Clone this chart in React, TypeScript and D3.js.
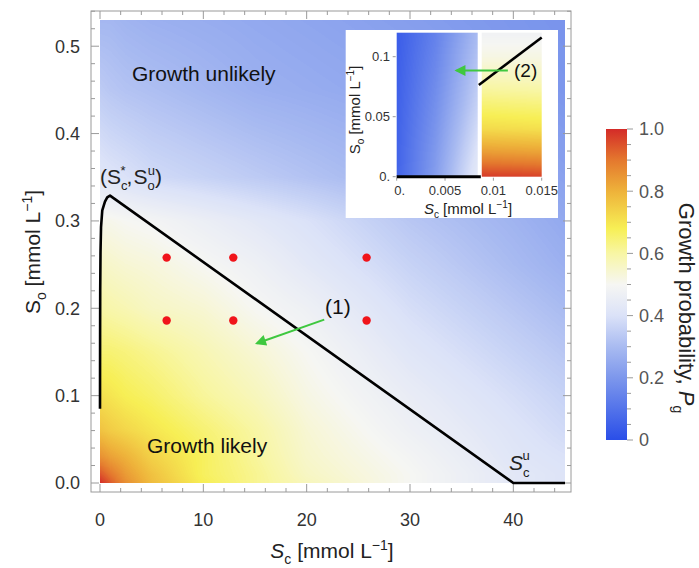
import React, { useMemo } from "react";
import * as d3 from "d3";

// growth probability field (rows = So, cols = Sc)
const fieldSc = [0, 1, 2.5, 5, 10, 15, 20, 30, 40, 45];
const fieldSo = [0, 0.01, 0.03, 0.06, 0.1, 0.15, 0.2, 0.25, 0.3, 0.35, 0.45, 0.53];
const fieldPg = [
  [1.0, 0.94, 0.86, 0.78, 0.68, 0.62, 0.57, 0.5, 0.43, 0.41],
  [0.95, 0.9, 0.84, 0.77, 0.67, 0.62, 0.56, 0.5, 0.43, 0.41],
  [0.86, 0.83, 0.8, 0.74, 0.67, 0.61, 0.55, 0.49, 0.42, 0.4],
  [0.77, 0.75, 0.73, 0.7, 0.65, 0.6, 0.54, 0.47, 0.41, 0.38],
  [0.71, 0.7, 0.68, 0.66, 0.61, 0.57, 0.52, 0.45, 0.39, 0.36],
  [0.65, 0.65, 0.64, 0.62, 0.58, 0.54, 0.5, 0.42, 0.36, 0.33],
  [0.6, 0.59, 0.58, 0.56, 0.54, 0.5, 0.47, 0.39, 0.33, 0.3],
  [0.56, 0.55, 0.54, 0.53, 0.5, 0.47, 0.43, 0.36, 0.3, 0.27],
  [0.51, 0.51, 0.5, 0.49, 0.46, 0.43, 0.4, 0.33, 0.28, 0.25],
  [0.42, 0.41, 0.4, 0.38, 0.36, 0.34, 0.32, 0.28, 0.25, 0.23],
  [0.34, 0.33, 0.32, 0.31, 0.29, 0.27, 0.26, 0.24, 0.21, 0.2],
  [0.29, 0.29, 0.28, 0.27, 0.26, 0.25, 0.24, 0.22, 0.2, 0.19],
];

// boundary curve
const boundSc = [0, 0.01, 0.02, 0.05, 0.1, 0.22, 0.48, 0.7, 0.97, 40, 45];
const boundSo = [0.085, 0.17, 0.22, 0.265, 0.293, 0.312, 0.322, 0.327, 0.329, 0, 0];

// sample points
const dotSc = [6.45, 12.9, 25.8, 6.45, 12.9, 25.8];
const dotSo = [0.258, 0.258, 0.258, 0.186, 0.186, 0.186];

// arrow (1): from, to
const arrow1Sc = [21.7, 15.2];
const arrow1So = [0.187, 0.16];

// inset fields
const insetLeftSc = [0, 0.004, 0.00838];
const insetLeftSo = [0, 0.06, 0.12];
const insetLeftPg = [
  [0.06, 0.22, 0.44],
  [0.05, 0.18, 0.36],
  [0.04, 0.14, 0.3],
];
const insetRightSc = [0.0088, 0.015];
const insetRightSo = [0, 0.02, 0.04, 0.06, 0.08, 0.1, 0.12];
const insetRightPg = [
  [0.98, 0.97],
  [0.84, 0.83],
  [0.72, 0.71],
  [0.65, 0.64],
  [0.58, 0.57],
  [0.52, 0.52],
  [0.48, 0.48],
];
const insetLowSc = [0, 0.0087];
const insetLowSo = [0, 0];
const insetHighSc = [0.0085, 0.015];
const insetHighSo = [0.0764, 0.116];
const arrow2Sc = [0.0115, 0.0062];
const arrow2So = [0.0885, 0.0885];

const xTicks = [0, 10, 20, 30, 40];
const yTicks = [0, 0.1, 0.2, 0.3, 0.4, 0.5];
const insetXTicks = [0, 0.005, 0.01, 0.015];
const insetXLabels = ["0.", "0.005", "0.01", "0.015"];
const insetYTicks = [0, 0.05, 0.1];
const insetYLabels = ["0.", "0.05", "0.1"];
const barTicks = [0, 0.2, 0.4, 0.6, 0.8, 1.0];
const barLabels = ["0", "0.2", "0.4", "0.6", "0.8", "1.0"];

const cmapStops = [0, 0.1, 0.2, 0.3, 0.4, 0.5, 0.6, 0.68, 0.8, 0.9, 1.0];
const cmapColors = [
  "#2a4ee8", "#5373ea", "#7d97ec", "#a9bbf1", "#dbe2f8", "#f6f6f3",
  "#f8f6a4", "#f7ef55", "#eeb23a", "#e4782e", "#d42b28",
];

const color = d3
  .scaleLinear<string>()
  .domain(cmapStops)
  .range(cmapColors)
  .interpolate(d3.interpolateRgb)
  .clamp(true);

const FONT = "'Liberation Sans', Arial, sans-serif";

function lookup(xs, ys, grid, x, y) {
  const i = Math.max(0, Math.min(xs.length - 2, d3.bisectRight(xs, x) - 1));
  const j = Math.max(0, Math.min(ys.length - 2, d3.bisectRight(ys, y) - 1));
  const tx = Math.max(0, Math.min(1, (x - xs[i]) / (xs[i + 1] - xs[i])));
  const ty = Math.max(0, Math.min(1, (y - ys[j]) / (ys[j + 1] - ys[j])));
  const a = grid[j][i] * (1 - tx) + grid[j][i + 1] * tx;
  const b = grid[j + 1][i] * (1 - tx) + grid[j + 1][i + 1] * tx;
  return a * (1 - ty) + b * ty;
}

function fieldImage(xScale, yScale, sc0, sc1, so0, so1, xs, ys, grid) {
  const px0 = xScale(sc0);
  const px1 = xScale(sc1);
  const py0 = yScale(so1);
  const py1 = yScale(so0);
  const w = Math.max(1, Math.round(px1 - px0));
  const h = Math.max(1, Math.round(py1 - py0));
  const canvas = document.createElement("canvas");
  canvas.width = w;
  canvas.height = h;
  const ctx = canvas.getContext("2d");
  const img = ctx.createImageData(w, h);
  const lut = d3.range(256).map((k) => d3.rgb(color(k / 255)));
  for (let py = 0; py < h; py++) {
    const so = yScale.invert(py0 + ((py + 0.5) / h) * (py1 - py0));
    for (let px = 0; px < w; px++) {
      const sc = xScale.invert(px0 + ((px + 0.5) / w) * (px1 - px0));
      const v = lookup(xs, ys, grid, sc, so);
      const c = lut[Math.max(0, Math.min(255, Math.round(v * 255)))];
      const o = (py * w + px) * 4;
      img.data[o] = c.r;
      img.data[o + 1] = c.g;
      img.data[o + 2] = c.b;
      img.data[o + 3] = 255;
    }
  }
  ctx.putImageData(img, 0, 0);
  return { url: canvas.toDataURL(), x: px0, y: py0, w: px1 - px0, h: py1 - py0 };
}

export default function App() {
  const width = 699;
  const height = 568;

  const x = d3.scaleLinear().domain([0, 45]).range([100, 565]);
  const y = d3.scaleLinear().domain([0, 0.53]).range([483, 20]);
  const xi = d3.scaleLinear().domain([0, 0.015]).range([396.7, 541.7]);
  const yi = d3.scaleLinear().domain([0, 0.12]).range([176.7, 32.7]);
  const cb = d3.scaleLinear().domain([0, 1]).range([440, 129]);

  const frame = { l: 91, r: 571, t: 11, b: 492 };

  const imgs = useMemo(
    () => ({
      main: fieldImage(x, y, 0, 45, 0, 0.53, fieldSc, fieldSo, fieldPg),
      left: fieldImage(xi, yi, 0, 0.00838, 0, 0.12, insetLeftSc, insetLeftSo, insetLeftPg),
      right: fieldImage(xi, yi, 0.0088, 0.015, 0, 0.12, insetRightSc, insetRightSo, insetRightPg),
    }),
    []
  );

  const line = d3
    .line<number>()
    .x((d, i) => x(boundSc[i]))
    .y((d, i) => y(boundSo[i]));

  const xMinor = d3.range(0, 46, 2).filter((v) => v % 10 !== 0);
  const yMinor = d3.range(0, 0.545, 0.02).filter((v) => Math.abs(v * 10 - Math.round(v * 10)) > 1e-6);
  const barMinor = d3.range(0, 1.0001, 0.05);

  const tickColor = "#9a9a9a";
  const green = "#3fc83f";

  return (
    <svg
      width={width}
      height={height}
      style={{ position: "absolute", left: 0, top: 0, background: "#fff" }}
      fontFamily={FONT}
    >
      <defs>
        <linearGradient id="cbar" x1="0" y1="1" x2="0" y2="0">
          {cmapStops.map((s, i) => (
            <stop key={i} offset={s} stopColor={cmapColors[i]} />
          ))}
        </linearGradient>
        <marker
          id="ahead"
          viewBox="0 0 10 10"
          refX="8"
          refY="5"
          markerUnits="userSpaceOnUse"
          markerWidth="15"
          markerHeight="11"
          orient="auto"
        >
          <path d="M0,0 L10,5 L0,10 z" fill={green} />
        </marker>
      </defs>

      {/* heat field */}
      <image href={imgs.main.url} x={imgs.main.x} y={imgs.main.y} width={imgs.main.w} height={imgs.main.h} preserveAspectRatio="none" />

      {/* frame */}
      <rect x={frame.l} y={frame.t} width={frame.r - frame.l} height={frame.b - frame.t} fill="none" stroke={tickColor} />
      {xTicks.map((v) => (
        <g key={"xt" + v} stroke={tickColor}>
          <line x1={x(v)} x2={x(v)} y1={frame.b} y2={frame.b - 8} />
          <line x1={x(v)} x2={x(v)} y1={frame.t} y2={frame.t + 8} />
        </g>
      ))}
      {xMinor.map((v) => (
        <g key={"xm" + v} stroke={tickColor}>
          <line x1={x(v)} x2={x(v)} y1={frame.b} y2={frame.b - 4} />
          <line x1={x(v)} x2={x(v)} y1={frame.t} y2={frame.t + 4} />
        </g>
      ))}
      {yTicks.map((v) => (
        <g key={"yt" + v} stroke={tickColor}>
          <line x1={frame.l} x2={frame.l + 8} y1={y(v)} y2={y(v)} />
          <line x1={frame.r} x2={frame.r - 8} y1={y(v)} y2={y(v)} />
        </g>
      ))}
      {yMinor.map((v, i) => (
        <g key={"ym" + i} stroke={tickColor}>
          <line x1={frame.l} x2={frame.l + 4} y1={y(v)} y2={y(v)} />
          <line x1={frame.r} x2={frame.r - 4} y1={y(v)} y2={y(v)} />
        </g>
      ))}
      {xTicks.map((v) => (
        <text key={"xl" + v} x={x(v)} y={526} fontSize={18} fill="#333" textAnchor="middle">
          {v}
        </text>
      ))}
      {yTicks.map((v) => (
        <text key={"yl" + v} x={80} y={y(v)} dy="0.35em" fontSize={18} fill="#333" textAnchor="end">
          {d3.format(".1f")(v)}
        </text>
      ))}

      {/* axis titles */}
      <text x={332} y={558} fontSize={21} fill="#222" textAnchor="middle">
        <tspan fontStyle="italic">S</tspan>
        <tspan fontSize={14} dy={6}>c</tspan>
        <tspan dy={-6}> [mmol L</tspan>
        <tspan fontSize={14} dy={-8}>−1</tspan>
        <tspan dy={8}>]</tspan>
      </text>
      <text transform="translate(40,252) rotate(-90)" fontSize={21} fill="#222" textAnchor="middle">
        <tspan>S</tspan>
        <tspan fontSize={14} dy={6}>o</tspan>
        <tspan dy={-6}> [mmol L</tspan>
        <tspan fontSize={14} dy={-8}>−1</tspan>
        <tspan dy={8}>]</tspan>
      </text>

      {/* boundary */}
      <path d={line(boundSc) || ""} fill="none" stroke="#000" strokeWidth={2.6} strokeLinejoin="round" />

      {/* dots */}
      {dotSc.map((v, i) => (
        <circle key={"d" + i} cx={x(v)} cy={y(dotSo[i])} r={4.2} fill="#f0141a" />
      ))}

      {/* arrow 1 */}
      <line
        x1={x(arrow1Sc[0])}
        y1={y(arrow1So[0])}
        x2={x(arrow1Sc[1])}
        y2={y(arrow1So[1])}
        stroke={green}
        strokeWidth={2}
        markerEnd="url(#ahead)"
      />
      <text x={325} y={314} fontSize={21} fill="#111">(1)</text>

      {/* annotations */}
      <text x={132} y={81} fontSize={21} fill="#111">Growth unlikely</text>
      <text x={147} y={453} fontSize={21} fill="#111">Growth likely</text>
      <text x={100} y={184} fontSize={21} fill="#222">
        (S<tspan fontSize={13} dy={6}>c</tspan>
        <tspan fontSize={13} dx={-7} dy={-15}>*</tspan>
        <tspan dx={1} dy={9}>,</tspan>
        <tspan dx={1}>S</tspan>
        <tspan fontSize={13} dy={6}>o</tspan>
        <tspan fontSize={13} dx={-7} dy={-15}>u</tspan>
        <tspan dy={9}>)</tspan>
      </text>
      <text x={509} y={470} fontSize={21} fill="#222">
        <tspan fontStyle="italic">S</tspan>
        <tspan fontSize={13} dy={7}>c</tspan>
        <tspan fontSize={13} dx={-7} dy={-17}>u</tspan>
      </text>

      {/* inset */}
      <rect x={345.7} y={30} width={212.3} height={188} fill="#fff" />
      <image href={imgs.left.url} x={imgs.left.x} y={imgs.left.y} width={imgs.left.w} height={imgs.left.h} preserveAspectRatio="none" />
      <image href={imgs.right.url} x={imgs.right.x} y={imgs.right.y} width={imgs.right.w} height={imgs.right.h} preserveAspectRatio="none" />
      {insetXTicks.map((v, i) => (
        <g key={"ixt" + i}>
          <line x1={xi(v)} x2={xi(v)} y1={yi(0) + 1} y2={yi(0) + 4} stroke={tickColor} />
          <text x={xi(v) + (i === 0 ? 3 : 0)} y={195} fontSize={13} fill="#333" textAnchor="middle">
            {insetXLabels[i]}
          </text>
        </g>
      ))}
      {insetYTicks.map((v, i) => (
        <g key={"iyt" + i}>
          <line x1={xi(0) - 4} x2={xi(0) - 1} y1={yi(v)} y2={yi(v)} stroke={tickColor} />
          <text x={390} y={yi(v)} dy="0.35em" fontSize={13} fill="#333" textAnchor="end">
            {insetYLabels[i]}
          </text>
        </g>
      ))}
      <text x={468} y={214} fontSize={15} fill="#222" textAnchor="middle">
        <tspan fontStyle="italic">S</tspan>
        <tspan fontSize={10} dy={4}>c</tspan>
        <tspan dy={-4}> [mmol L</tspan>
        <tspan fontSize={10} dy={-6}>−1</tspan>
        <tspan dy={6}>]</tspan>
      </text>
      <text transform="translate(360,110) rotate(-90)" fontSize={15} fill="#222" textAnchor="middle">
        <tspan>S</tspan>
        <tspan fontSize={10} dy={4}>o</tspan>
        <tspan dy={-4}> [mmol L</tspan>
        <tspan fontSize={10} dy={-6}>−1</tspan>
        <tspan dy={6}>]</tspan>
      </text>
      <path
        d={d3.line()(insetLowSc.map((v, i) => [xi(v), yi(insetLowSo[i])])) || ""}
        stroke="#000"
        strokeWidth={3}
        fill="none"
      />
      <path
        d={d3.line()(insetHighSc.map((v, i) => [xi(v), yi(insetHighSo[i])])) || ""}
        stroke="#000"
        strokeWidth={2.6}
        fill="none"
      />
      <line
        x1={xi(arrow2Sc[0])}
        y1={yi(arrow2So[0])}
        x2={xi(arrow2Sc[1])}
        y2={yi(arrow2So[1])}
        stroke={green}
        strokeWidth={2}
        markerEnd="url(#ahead)"
      />
      <text x={514} y={77} fontSize={19} fill="#111">(2)</text>

      {/* colour bar */}
      <rect x={606} y={cb(1)} width={21} height={cb(0) - cb(1)} fill="url(#cbar)" />
      {barMinor.map((v, i) => (
        <line key={"cm" + i} x1={627} x2={Math.round(v * 100) % 20 === 0 ? 633 : 631} y1={cb(v)} y2={cb(v)} stroke={tickColor} />
      ))}
      {barTicks.map((v, i) => (
        <text key={"cl" + i} x={639} y={cb(v)} dy="0.35em" fontSize={18} fill="#555">
          {barLabels[i]}
        </text>
      ))}
      <text transform="translate(679,308) rotate(90)" fontSize={22} fill="#222" textAnchor="middle">
        Growth probability,{" "}
        <tspan fontStyle="italic">P</tspan>
        <tspan fontSize={14} dy={6}>g</tspan>
      </text>
    </svg>
  );
}
